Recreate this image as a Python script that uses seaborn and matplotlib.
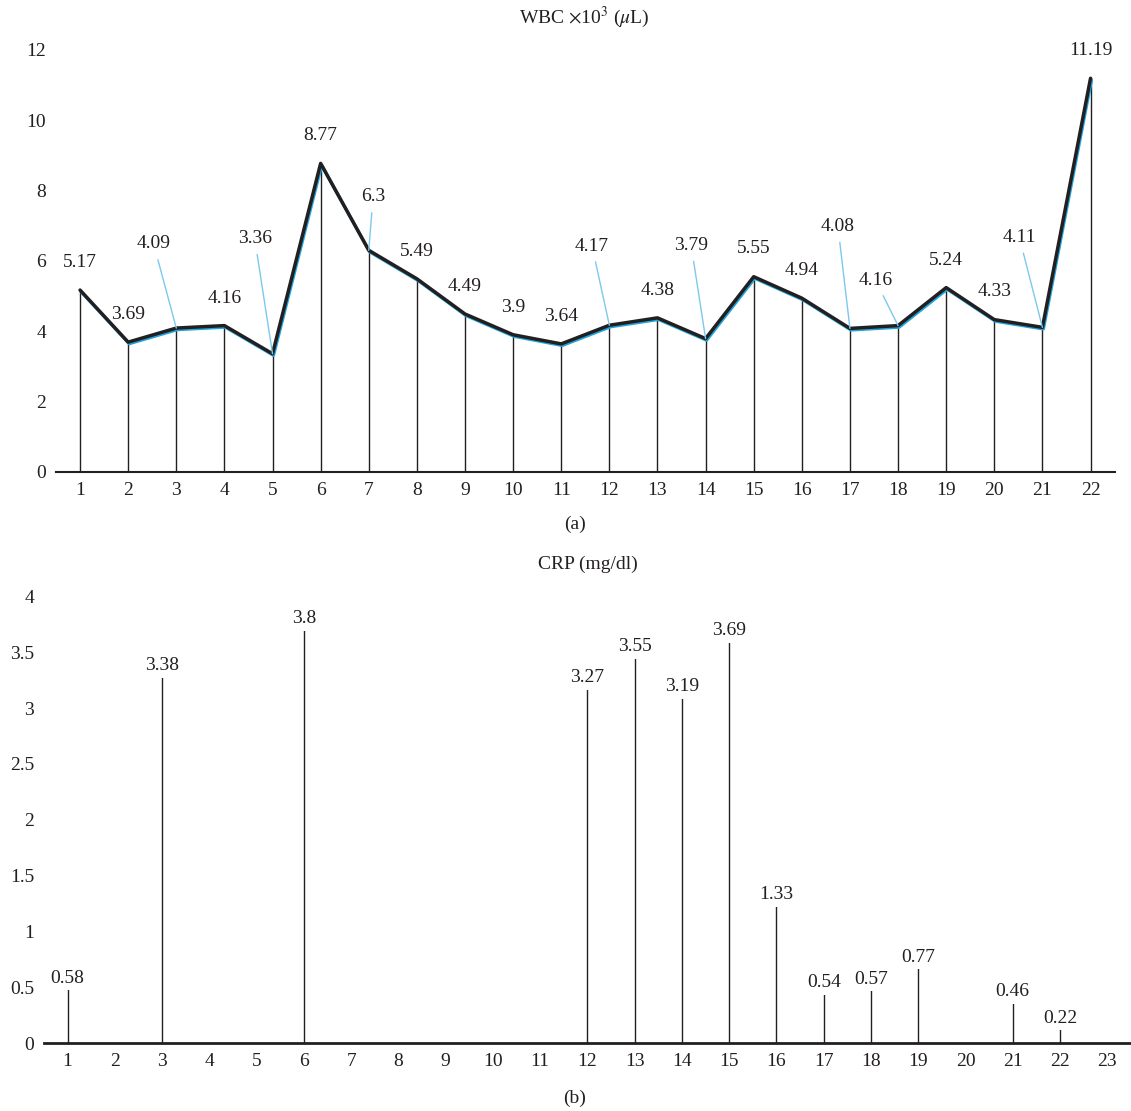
import numpy as np
import pandas as pd
import seaborn as sns
import matplotlib.pyplot as plt
from matplotlib.transforms import ScaledTranslation

# WBC (x10^3 / uL) per patient
patients = list(range(1, 23))
wbc = [5.17, 3.69, 4.09, 4.16, 3.36, 8.77, 6.3, 5.49, 4.49, 3.9, 3.64,
       4.17, 4.38, 3.79, 5.55, 4.94, 4.08, 4.16, 5.24, 4.33, 4.11, 11.19]

# CRP (mg/dl), only patients with a value
crp_patients = [1, 3, 6, 12, 13, 14, 15, 16, 17, 18, 19, 21, 22]
crp = [0.58, 3.38, 3.8, 3.27, 3.55, 3.19, 3.69, 1.33, 0.54, 0.57, 0.77, 0.46, 0.22]
crp_ticks = list(range(1, 24))

# label placement for the WBC panel (layout only): x, y, draw leader line
wbc_label_pos = [
    (1.0, 5.94, False), (2.0, 4.48, False), (2.53, 6.48, True), (4.0, 4.93, False),
    (4.63, 6.63, True), (5.99, 9.56, False), (7.09, 7.82, True), (8.0, 6.27, False),
    (9.0, 5.28, False), (10.0, 4.67, False), (11.0, 4.43, False), (11.64, 6.42, True),
    (13.0, 5.17, False), (13.70, 6.44, True), (15.0, 6.34, False), (16.0, 5.73, False),
    (16.75, 6.98, True), (17.53, 5.45, True), (19.0, 6.02, False), (20.0, 5.12, False),
    (20.52, 6.67, True), (22.0, 11.98, False),
]

sns.set_theme(style="white")
plt.rcParams['font.family'] = ['Liberation Serif', 'DejaVu Serif']
plt.rcParams['mathtext.fontset'] = 'stix'

ink = "#231f20"
cyan = "#1ea6dc"
leader = "#7cc8ee"
fs = 14

fig = plt.figure(figsize=(11.31, 11.11), dpi=100)
ax1 = fig.add_axes([0.0495, 0.5752, 0.936, 0.380])
ax2 = fig.add_axes([0.0389, 0.0612, 0.961, 0.402])

wbc_df = pd.DataFrame({"patient": patients, "wbc": wbc})

# WBC panel
ax1.vlines(wbc_df["patient"], 0, wbc_df["wbc"], color=ink, lw=1.0, zorder=1)
shift = ax1.transData + ScaledTranslation(1 / 100, -1.6 / 100, fig.dpi_scale_trans)
sns.lineplot(data=wbc_df, x="patient", y="wbc", ax=ax1, color=cyan, lw=2.3,
             transform=shift, zorder=2)
sns.lineplot(data=wbc_df, x="patient", y="wbc", ax=ax1, color=ink, lw=2.5, zorder=3)

for p, v, (lx, ly, lead) in zip(patients, wbc, wbc_label_pos):
    if lead:
        ax1.annotate(f"{v:g}", xy=(p, v), xytext=(lx, ly), ha="center", va="center",
                     fontsize=fs, color=ink,
                     arrowprops=dict(arrowstyle="-", color=leader, lw=1.0,
                                     shrinkA=3, shrinkB=0))
    else:
        ax1.text(lx, ly, f"{v:g}", ha="center", va="center", fontsize=fs, color=ink)

ax1.set_xlim(0.5, 22.5)
ax1.set_ylim(0, 12)
ax1.set_xticks(patients)
ax1.set_yticks(np.arange(0, 13, 2))
ax1.set_xlabel("")
ax1.set_ylabel("")

# CRP panel
ax2.vlines(crp_patients, 0, crp, color=ink, lw=1.0, zorder=1)
for p, v in zip(crp_patients, crp):
    ax2.text(p, v, f"{v:g}", ha="center", va="center", fontsize=fs, color=ink,
             bbox=dict(facecolor="white", edgecolor="none", pad=2.5), zorder=3)

ax2.set_xlim(0.5, 23.5)
ax2.set_ylim(0, 4)
ax2.set_xticks(crp_ticks)
ax2.set_yticks(np.arange(0, 4.01, 0.5))
ax2.set_yticklabels([f"{t:g}" for t in np.arange(0, 4.01, 0.5)])

for ax, lw in [(ax1, 1.5), (ax2, 2.0)]:
    for s in ["top", "right", "left"]:
        ax.spines[s].set_visible(False)
    ax.spines["bottom"].set_color(ink)
    ax.spines["bottom"].set_linewidth(lw)
    ax.tick_params(axis="both", length=0, labelsize=fs, labelcolor=ink)
    ax.tick_params(axis="x", pad=7)
    ax.tick_params(axis="y", pad=7)
    ax.grid(False)

fig.text(0.517, 0.984, r"WBC $\times$10$^3$ ($\mu$L)", ha="center", va="center",
         fontsize=fs, color=ink)
fig.text(0.508, 0.528, "(a)", ha="center", va="center", fontsize=fs, color=ink)
fig.text(0.520, 0.492, "CRP (mg/dl)", ha="center", va="center", fontsize=fs, color=ink)
fig.text(0.508, 0.011, "(b)", ha="center", va="center", fontsize=fs, color=ink)

fig.savefig("out.png", dpi=100, facecolor="white")
